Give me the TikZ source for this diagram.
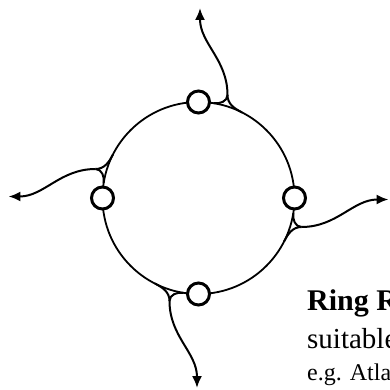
\documentclass[tikz,border=0pt]{standalone}
\usepackage{fontspec}
\setmainfont{Liberation Serif}
\usetikzlibrary{arrows.meta}

\begin{document}
\begin{tikzpicture}[
  x=1pt, y=1pt,
  ring/.style={line width=1.8pt},
  road/.style={line width=2pt},
  arr/.style={road, -{Latex[length=12pt, width=10pt]}},
  stop/.style={circle, draw, line width=3pt, fill=white, minimum size=22pt, inner sep=0pt},
  lbl/.style={anchor=base west, inner sep=0pt, align=left}
]
\useasboundingbox (-198.5,-192) rectangle (191.5,198);

% Ring
\draw[ring] (0,0) circle (96pt);

% Junctions and ends
\coordinate (nq) at (29,103);   \coordinate (nt) at (1.5,190);
\coordinate (eq) at (103,-29);  \coordinate (et) at (190,-1.5);
\coordinate (sq) at (-29,-103); \coordinate (st) at (-1.5,-190);
\coordinate (wq) at (-103,29);  \coordinate (wt) at (-190,1.5);

% Branches
\draw[road] (81:96) to[out=-9, in=-90] (nq);
\draw[road] (63:96) to[out=153, in=-90] (nq);
\draw[arr] (nq) to[out=90, in=-90] (nt);

\draw[road] (-9:96) to[out=-99, in=180] (eq);
\draw[road] (-27:96) to[out=63, in=180] (eq);
\draw[arr] (eq) to[out=0, in=180] (et);

\draw[road] (-99:96) to[out=171, in=90] (sq);
\draw[road] (-117:96) to[out=-27, in=90] (sq);
\draw[arr] (sq) to[out=-90, in=90] (st);

\draw[road] (171:96) to[out=81, in=0] (wq);
\draw[road] (153:96) to[out=-117, in=0] (wq);
\draw[arr] (wq) to[out=180, in=0] (wt);

% Stops
\node[stop] (n) at (90:96) {};
\node[stop] (e) at (0:96) {};
\node[stop] (s) at (-90:96) {};
\node[stop] (w) at (180:96) {};

% Caption
\node[lbl, font=\fontsize{30}{34}\selectfont\bfseries] (title) at (108.5,-112) {Ring R};
\node[lbl, font=\fontsize{29}{33}\selectfont] (sub) at (108.5,-150) {suitable};
\node[lbl, font=\fontsize{24}{28}\selectfont] (ex) at (108.5,-182) {e.g. Atla};
\end{tikzpicture}
\end{document}
